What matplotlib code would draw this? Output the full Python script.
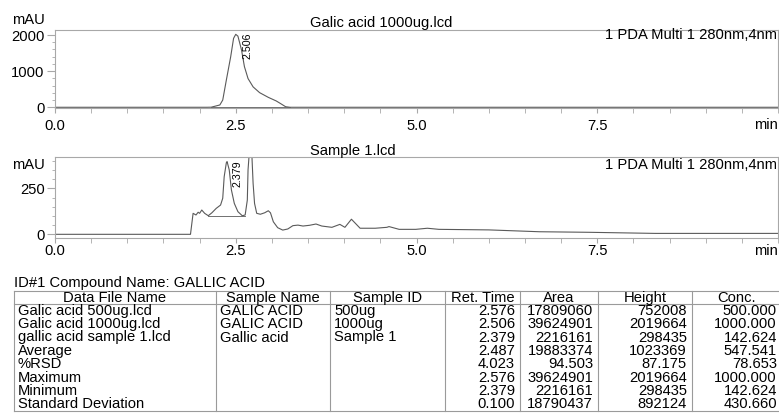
import matplotlib
matplotlib.use("Agg")
import matplotlib.pyplot as plt
from matplotlib.ticker import MultipleLocator

# standard: Galic acid 1000ug
std_time = [0.0, 2.10, 2.16, 2.28, 2.32, 2.37, 2.43, 2.47, 2.50, 2.53, 2.58, 2.62,
            2.67, 2.74, 2.83, 2.95, 3.06, 3.13, 3.19, 3.25, 10.0]
std_mau = [0, 0, 2, 64, 200, 755, 1400, 1910, 2020, 1970, 1585, 1125,
           795, 565, 405, 275, 175, 90, 15, 0, 0]
std_base = ([2.16, 3.25], [0, 0])

# sample 1
smp_time = [0.0, 1.865, 1.874, 1.91, 1.95, 1.98, 2.00, 2.03, 2.07, 2.12, 2.17, 2.23,
            2.29, 2.32, 2.34, 2.37, 2.38, 2.41, 2.44, 2.48, 2.53, 2.59, 2.63, 2.66,
            2.67, 2.69, 2.70, 2.72, 2.74, 2.76, 2.79, 2.84, 2.90, 2.95, 2.98, 3.02,
            3.08, 3.15, 3.22, 3.29, 3.36, 3.43, 3.52, 3.61, 3.69, 3.83, 3.94, 4.01,
            4.10, 4.22, 4.43, 4.59, 4.62, 4.76, 4.99, 5.15, 5.31, 6.0, 6.7, 7.38,
            8.3, 9.23, 10.0]
smp_mau = [0, 0, 0, 114, 105, 120, 114, 132, 114, 101, 117, 141,
           159, 196, 313, 389, 395, 350, 241, 168, 123, 101, 105, 186,
           350, 458, 480, 458, 277, 168, 114, 109, 117, 128, 117, 68,
           36, 23, 29, 47, 50, 45, 49, 56, 45, 38, 54, 38,
           82, 33, 33, 38, 42, 27, 27, 33, 27, 24, 14, 11,
           5, 5, 5]
smp_base = ([2.12, 2.63], [101, 101])

peaks = [("2.506", 2.66, 2063), ("2.379", 2.53, 404)]

col_names = ["Data File Name", "Sample Name", "Sample ID", "Ret. Time", "Area", "Height", "Conc."]
file_names = ["Galic acid 500ug.lcd", "Galic acid 1000ug.lcd", "gallic acid sample 1.lcd",
              "Average", "%RSD", "Maximum", "Minimum", "Standard Deviation"]
sample_names = ["GALIC ACID", "GALIC ACID", "Gallic acid", "", "", "", "", ""]
sample_ids = ["500ug", "1000ug", "Sample 1", "", "", "", "", ""]
ret_time = ["2.576", "2.506", "2.379", "2.487", "4.023", "2.576", "2.379", "0.100"]
area = ["17809060", "39624901", "2216161", "19883374", "94.503", "39624901", "2216161", "18790437"]
height = ["752008", "2019664", "298435", "1023369", "87.175", "2019664", "298435", "892124"]
conc = ["500.000", "1000.000", "142.624", "547.541", "78.653", "1000.000", "142.624", "430.660"]

W, H = 779, 418
plt.rcParams['font.family'] = ['Liberation Sans', 'DejaVu Sans']
fs = 10.6
line_c = '#5a5a5a'
spine_c = '#a8a8a8'

fig = plt.figure(figsize=(W / 100, H / 100), dpi=100)


def px_axes(left, right, top, bottom):
    return fig.add_axes([left / W, 1 - bottom / H, (right - left) / W, (bottom - top) / H])


def style(ax, ylim, major, minor, pad):
    ax.set_xlim(0, 10)
    ax.set_ylim(*ylim)
    for s in ax.spines.values():
        s.set_color(spine_c)
        s.set_linewidth(0.8)
    ax.set_xticks([0, 2.5, 5.0, 7.5])
    ax.set_xticklabels(["0.0", "2.5", "5.0", "7.5"])
    ax.xaxis.set_minor_locator(MultipleLocator(0.5))
    ax.yaxis.set_major_locator(MultipleLocator(major))
    ax.yaxis.set_minor_locator(MultipleLocator(minor))
    ax.tick_params(axis='x', which='both', direction='out', length=3.5, color=spine_c,
                   labelsize=fs, pad=pad)
    ax.tick_params(axis='y', which='major', direction='out', length=6, color=spine_c,
                   labelsize=fs, pad=1.5)
    ax.tick_params(axis='y', which='minor', direction='out', length=2.5, color=spine_c)


ax1 = px_axes(55, 778, 30, 108)
ax1.plot(std_time, std_mau, color=line_c, lw=0.8)
ax1.plot(*std_base, color=line_c, lw=0.6)
style(ax1, (-20, 2140), 1000, 200, 4.5)
ax1.set_yticks([0, 1000, 2000])

ax2 = px_axes(55, 778, 157, 238)
ax2.plot(smp_time, smp_mau, color=line_c, lw=0.8)
ax2.plot(*smp_base, color=line_c, lw=0.6)
style(ax2, (-20, 420), 250, 50, 0.5)
ax2.set_yticks([0, 250])

for ax, (lab, x, y) in zip([ax1, ax2], peaks):
    ax.text(x, y, lab, rotation=90, ha='center', va='top', fontsize=7.7)

# overlay in pixel coordinates for texts and the table
ov = fig.add_axes([0, 0, 1, 1], zorder=5)
ov.set_xlim(0, W)
ov.set_ylim(H, 0)
ov.axis('off')

for ytitle, ymau, ypda, ymin, name in [(23, 20, 35, 125, "Galic acid 1000ug.lcd"),
                                         (151.5, 165, 165, 251, "Sample 1.lcd")]:
    ov.text(310, ytitle, name, ha='left', va='center', fontsize=fs)
    ov.text(12, ymau, "mAU", ha='left', va='center', fontsize=fs)
    ov.text(777, ypda, "1 PDA Multi 1 280nm,4nm", ha='right', va='center', fontsize=fs)
    ov.text(778, ymin, "min", ha='right', va='center', fontsize=fs)

ov.text(14, 283, "ID#1 Compound Name: GALLIC ACID", ha='left', va='center', fontsize=fs)

bounds = [14, 216, 330, 445, 520, 598, 692, 782]
top, head_bot, row_h = 291, 304, 13.4
bottom = head_bot + row_h * len(file_names)
tc = '#9a9a9a'
for x in bounds:
    ov.plot([x, x], [top, bottom], color=tc, lw=0.8)
for y in [top, head_bot, bottom]:
    ov.plot([bounds[0], bounds[-1]], [y, y], color=tc, lw=0.8)

for i, name in enumerate(col_names):
    ov.text((bounds[i] + bounds[i + 1]) / 2, (top + head_bot) / 2 + 0.5, name,
            ha='center', va='center', fontsize=fs)

columns = [file_names, sample_names, sample_ids, ret_time, area, height, conc]
for c, vals in enumerate(columns):
    for r, v in enumerate(vals):
        y = head_bot + row_h * (r + 0.5)
        if c < 3:
            ov.text(bounds[c] + 4, y, v, ha='left', va='center', fontsize=fs)
        else:
            right = bounds[c + 1] - 5 if c < 6 else 777
            ov.text(right, y, v, ha='right', va='center', fontsize=fs)

fig.savefig("out.png", dpi=100)
